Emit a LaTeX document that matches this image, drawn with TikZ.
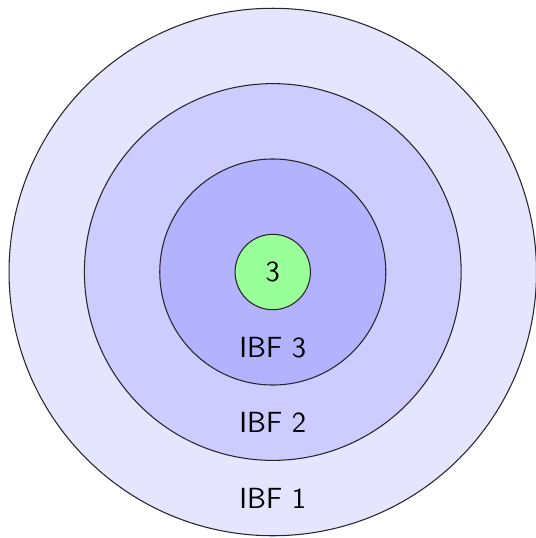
\documentclass[tikz,border=0pt]{standalone}
\usepackage{xcolor}
\usepackage{tikz}
\usetikzlibrary{shapes.geometric, positioning, calc}

\begin{document}
\begin{tikzpicture}[
    ring/.style={circle, draw=black!85, line width=0.4pt, inner sep=0pt, outer sep=0pt},
    lbl/.style={font=\sffamily\fontsize{11}{13}\selectfont, inner sep=0pt}
]
\useasboundingbox (-3.62,-3.53) rectangle (3.49,3.61);

% Rings
\node[ring, fill=blue!10, minimum size=7cm] (ibf1) at (0,0) {};
\node[ring, fill=blue!20, minimum size=5cm] (ibf2) at (0,0) {};
\node[ring, fill=blue!30, minimum size=3cm] (ibf3) at (0,0) {};
\node[ring, fill=green!40, minimum size=1cm, lbl] (core) at (0,0) {3};

% Labels
\node[lbl] (lbl3) at ([yshift=0.5cm]ibf3.south) {IBF 3};
\node[lbl] (lbl2) at ([yshift=0.5cm]ibf2.south) {IBF 2};
\node[lbl] (lbl1) at ([yshift=0.5cm]ibf1.south) {IBF 1};

\end{tikzpicture}
\end{document}
